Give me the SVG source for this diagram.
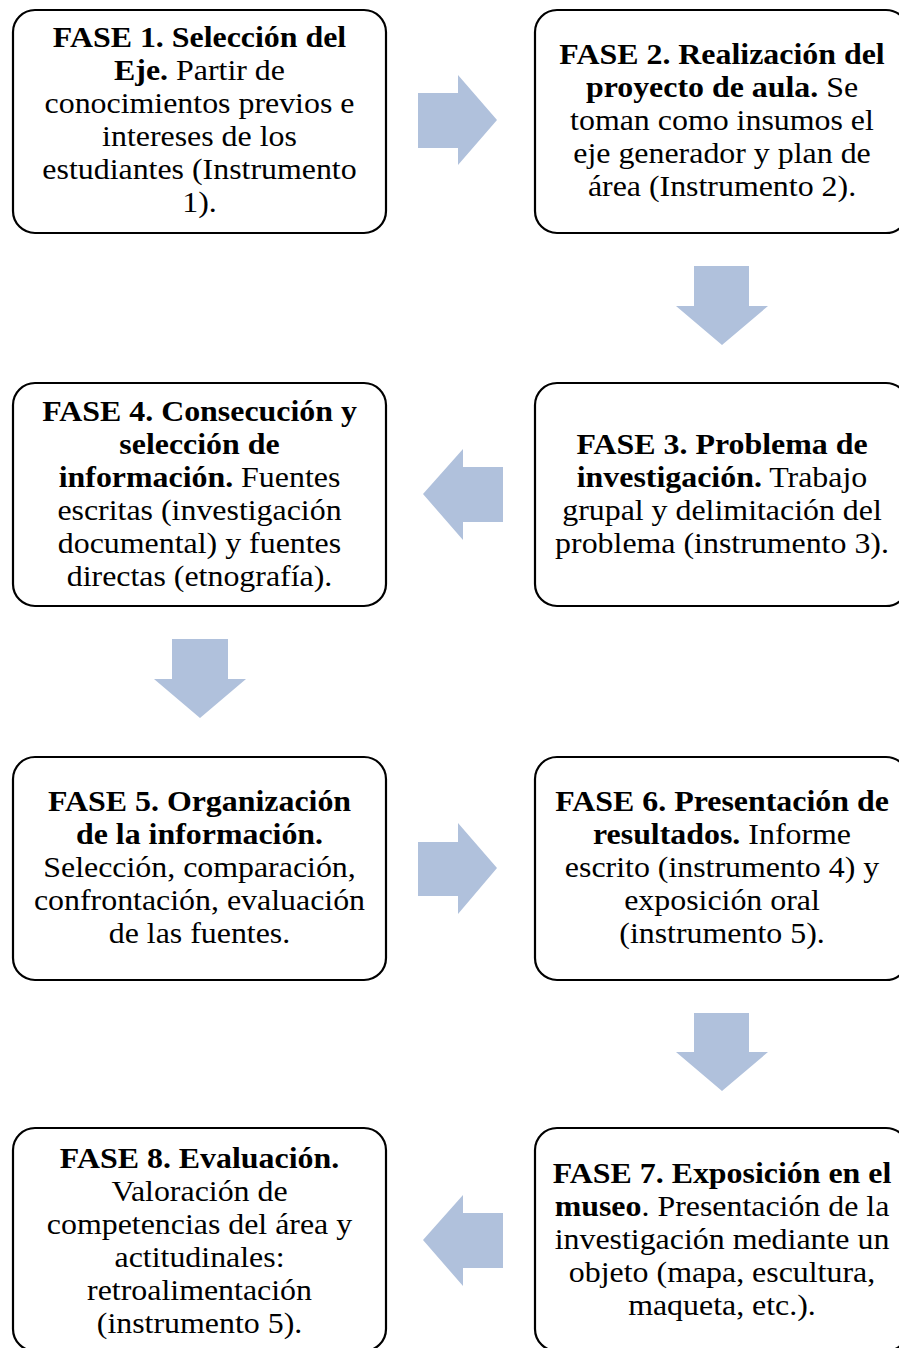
<svg xmlns="http://www.w3.org/2000/svg" width="899" height="1348" viewBox="0 0 899 1348">
<style>
.box{fill:#fff;stroke:#000;stroke-width:2.2}
.t{font-family:"Liberation Serif","Times New Roman",serif;font-size:29px;fill:#000;text-anchor:middle}
.b{font-weight:bold}
.arr{fill:#B0C1DC}
</style>
<rect width="899" height="1348" fill="#fff"/>
<g id="connectors">
<polygon class="arr" points="418,93 458,93 458,75 497,120 458,165 458,148 418,148"/>
<polygon class="arr" points="694,266 749,266 749,306 768,306 722,345 676,306 694,306"/>
<polygon class="arr" points="503,467 463,467 463,449 423,494 463,540 463,522 503,522"/>
<polygon class="arr" points="172,639 228,639 228,679 246,679 200,718 154,679 172,679"/>
<polygon class="arr" points="418,842 458,842 458,823 497,868 458,914 458,896 418,896"/>
<polygon class="arr" points="694,1013 749,1013 749,1052 768,1052 722,1091 676,1052 694,1052"/>
<polygon class="arr" points="503,1213 463,1213 463,1195 423,1240 463,1286 463,1268 503,1268"/>
</g>
<g id="fase1">
<rect class="box" x="13" y="10" width="373" height="223" rx="22"/>
<g transform="translate(199.5 0) scale(1.1 1)">
<text class="t" x="0" y="47"><tspan class="b">FASE 1. Selección del</tspan></text>
<text class="t" x="0" y="80"><tspan class="b">Eje.</tspan> Partir de</text>
<text class="t" x="0" y="113">conocimientos previos e</text>
<text class="t" x="0" y="146">intereses de los</text>
<text class="t" x="0" y="179">estudiantes (Instrumento</text>
<text class="t" x="0" y="212">1).</text>
</g>
</g>
<g id="fase2">
<rect class="box" x="535" y="10" width="373" height="223" rx="22"/>
<g transform="translate(722 0) scale(1.1 1)">
<text class="t" x="0" y="64"><tspan class="b">FASE 2. Realización del</tspan></text>
<text class="t" x="0" y="97"><tspan class="b">proyecto de aula.</tspan> Se</text>
<text class="t" x="0" y="130">toman como insumos el</text>
<text class="t" x="0" y="163">eje generador y plan de</text>
<text class="t" x="0" y="196">área (Instrumento 2).</text>
</g>
</g>
<g id="fase3">
<rect class="box" x="535" y="383" width="373" height="223" rx="22"/>
<g transform="translate(722 0) scale(1.1 1)">
<text class="t" x="0" y="454"><tspan class="b">FASE 3. Problema de</tspan></text>
<text class="t" x="0" y="487"><tspan class="b">investigación.</tspan> Trabajo</text>
<text class="t" x="0" y="520">grupal y delimitación del</text>
<text class="t" x="0" y="553">problema (instrumento 3).</text>
</g>
</g>
<g id="fase4">
<rect class="box" x="13" y="383" width="373" height="223" rx="22"/>
<g transform="translate(199.5 0) scale(1.1 1)">
<text class="t" x="0" y="421"><tspan class="b">FASE 4. Consecución y</tspan></text>
<text class="t" x="0" y="454"><tspan class="b">selección de</tspan></text>
<text class="t" x="0" y="487"><tspan class="b">información.</tspan> Fuentes</text>
<text class="t" x="0" y="520">escritas (investigación</text>
<text class="t" x="0" y="553">documental) y fuentes</text>
<text class="t" x="0" y="586">directas (etnografía).</text>
</g>
</g>
<g id="fase5">
<rect class="box" x="13" y="757" width="373" height="223" rx="22"/>
<g transform="translate(199.5 0) scale(1.1 1)">
<text class="t" x="0" y="811"><tspan class="b">FASE 5. Organización</tspan></text>
<text class="t" x="0" y="844"><tspan class="b">de la información.</tspan></text>
<text class="t" x="0" y="877">Selección, comparación,</text>
<text class="t" x="0" y="910">confrontación, evaluación</text>
<text class="t" x="0" y="943">de las fuentes.</text>
</g>
</g>
<g id="fase6">
<rect class="box" x="535" y="757" width="373" height="223" rx="22"/>
<g transform="translate(722 0) scale(1.1 1)">
<text class="t" x="0" y="811"><tspan class="b">FASE 6. Presentación de</tspan></text>
<text class="t" x="0" y="844"><tspan class="b">resultados.</tspan> Informe</text>
<text class="t" x="0" y="877">escrito (instrumento 4) y</text>
<text class="t" x="0" y="910">exposición oral</text>
<text class="t" x="0" y="943">(instrumento 5).</text>
</g>
</g>
<g id="fase7">
<rect class="box" x="535" y="1128" width="373" height="223" rx="22"/>
<g transform="translate(722 0) scale(1.1 1)">
<text class="t" x="0" y="1183"><tspan class="b">FASE 7. Exposición en el</tspan></text>
<text class="t" x="0" y="1216"><tspan class="b">museo</tspan>. Presentación de la</text>
<text class="t" x="0" y="1249">investigación mediante un</text>
<text class="t" x="0" y="1282">objeto (mapa, escultura,</text>
<text class="t" x="0" y="1315">maqueta, etc.).</text>
</g>
</g>
<g id="fase8">
<rect class="box" x="13" y="1128" width="373" height="223" rx="22"/>
<g transform="translate(199.5 0) scale(1.1 1)">
<text class="t" x="0" y="1168"><tspan class="b">FASE 8. Evaluación.</tspan></text>
<text class="t" x="0" y="1201">Valoración de</text>
<text class="t" x="0" y="1234">competencias del área y</text>
<text class="t" x="0" y="1267">actitudinales:</text>
<text class="t" x="0" y="1300">retroalimentación</text>
<text class="t" x="0" y="1333">(instrumento 5).</text>
</g>
</g>
</svg>
